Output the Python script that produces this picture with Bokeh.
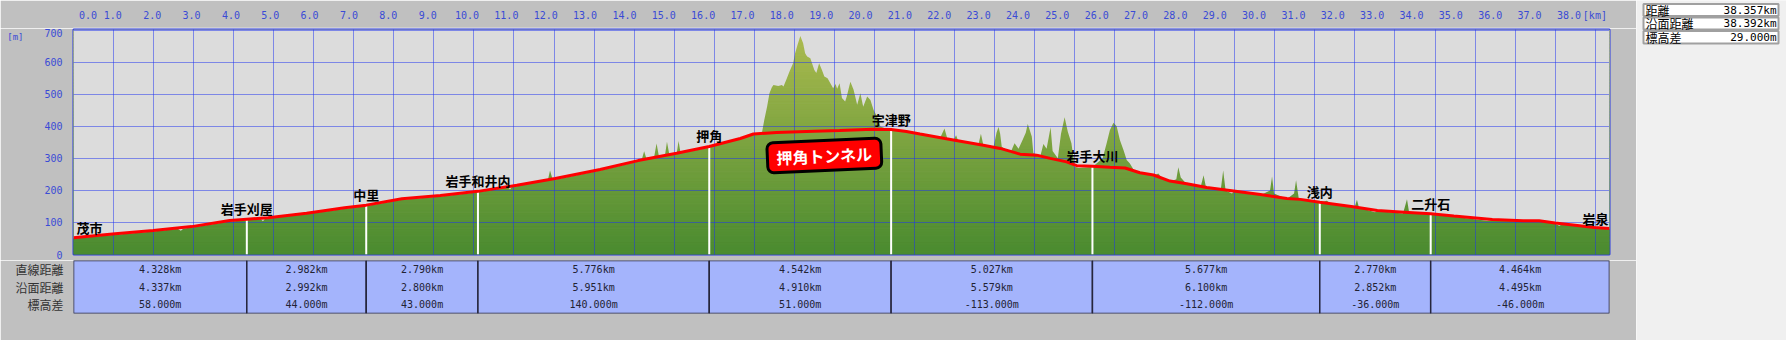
import numpy as np
from bokeh.plotting import figure
from bokeh.models import ColumnDataSource, FixedTicker, Label, LabelSet, Range1d, LinearAxis
from bokeh.layouts import row, column
from bokeh.embed import file_html
from bokeh.resources import INLINE
from bokeh.core.properties import value

# ---------------- data ----------------
stations = ["茂市", "岩手刈屋", "中里", "岩手和井内", "押角", "宇津野", "岩手大川", "浅内", "二升石", "岩泉"]
station_km = [0.0, 4.328, 7.310, 10.100, 15.876, 20.418, 25.445, 31.122, 33.892, 38.356]
station_el = [52, 110, 154, 197, 337, 388, 275, 163, 127, 81]

seg_straight = ["4.328km", "2.982km", "2.790km", "5.776km", "4.542km", "5.027km", "5.677km", "2.770km", "4.464km"]
seg_surface = ["4.337km", "2.992km", "2.800km", "5.951km", "4.910km", "5.579km", "6.100km", "2.852km", "4.495km"]
seg_diff = ["58.000m", "44.000m", "43.000m", "140.000m", "51.000m", "-113.000m", "-112.000m", "-36.000m", "-46.000m"]
row_labels = ["直線距離", "沿面距離", "標高差"]

summary_labels = ["距離", "沿面距離", "標高差"]
summary_values = ["38.357km", "38.392km", "29.000m"]

total_km = 38.357

# route (red line)
red_km = [0.0, 1.04, 1.99, 2.95, 3.9, 4.328, 4.86, 5.82, 6.77, 7.31, 8.2, 9.16, 10.1, 11.07, 12.03,
          13.15, 14.1, 15.06, 15.876, 16.65, 16.98, 17.56, 18.3, 19.13, 19.96, 20.418, 20.8, 21.14,
          21.76, 22.72, 23.14, 23.64, 24.05, 24.39, 24.8, 25.05, 25.445, 25.88, 26.26, 26.63, 26.97,
          27.38, 27.8, 28.3, 28.97, 29.64, 30.3, 30.64, 31.122, 31.91, 32.56, 33.23, 33.892, 34.47,
          35.43, 36.2, 36.6, 37.0, 37.5, 37.98, 38.357]
red_el = [52, 65, 75, 87, 106, 110, 115, 129, 146, 154, 174, 184, 197, 216, 237,
          265, 293, 316, 337, 362, 376, 381, 384, 387, 391, 390, 384, 376,
          362, 341, 331, 313, 310, 300, 289, 277, 275, 272, 270, 255, 248,
          229, 221, 209, 198, 187, 175, 172, 163, 150, 137, 132, 127, 120,
          109, 105, 105, 98, 91, 84, 81]

# ground surface (green area)
ground_km = [0.0, 1.04, 1.99, 2.6, 2.68, 2.75, 2.95, 3.9, 4.328, 4.68, 4.73, 4.78, 4.86, 5.82, 6.77,
             7.31, 8.2, 9.16, 10.1, 10.85, 10.9, 10.95, 11.07, 11.85, 11.9, 11.95, 12.03, 13.15, 14.1,
             14.2, 14.25, 14.3, 14.5, 14.56, 14.62, 14.77, 14.82, 14.88, 15.06, 15.11, 15.16, 15.876,
             16.65, 16.98, 17.19, 17.25, 17.32, 17.38, 17.44, 17.48, 17.6, 17.69, 17.73, 17.8, 17.88,
             17.97, 18.02, 18.08, 18.15, 18.22, 18.27, 18.32, 18.4, 18.5, 18.55, 18.62, 18.69, 18.75,
             18.83, 18.9, 18.97, 19.03, 19.07, 19.13, 19.19, 19.27, 19.31, 19.4, 19.48, 19.57, 19.65,
             19.72, 19.82, 19.9, 19.98, 20.07, 20.15, 20.3, 20.418, 20.8, 21.14, 21.65, 21.75, 21.82,
             21.98, 22.04, 22.1, 22.6, 22.66, 22.72, 22.98, 23.05, 23.1, 23.14, 23.18, 23.4, 23.5,
             23.6, 23.7, 23.78, 23.83, 23.93, 23.97, 24.15, 24.22, 24.3, 24.36, 24.4, 24.45, 24.58,
             24.66, 24.75, 24.83, 24.92, 25.0, 25.1, 25.445, 25.7, 25.8, 25.88, 25.97, 26.05, 26.13,
             26.22, 26.3, 26.38, 26.47, 26.63, 26.97, 27.09, 27.15, 27.38, 27.54, 27.59, 27.65, 27.8,
             28.15, 28.22, 28.28, 28.3, 28.65, 28.71, 28.77, 28.93, 28.97, 29.64, 29.88, 29.93, 29.98,
             30.3, 30.48, 30.53, 30.6, 31.122, 31.3, 31.4, 31.91, 32.0, 32.05, 32.1, 32.5, 32.56,
             33.2, 33.25, 33.3, 33.35, 33.892, 34.47, 35.3, 35.43, 36.2, 36.6, 37.0, 37.1, 37.2,
             37.5, 37.98, 38.357]
ground_el = [50, 62, 72, 80, 74, 81, 84, 103, 107, 110, 104, 111, 112, 126, 143,
             151, 171, 181, 194, 210, 203, 211, 213, 234, 262, 240, 234, 262, 290,
             300, 322, 302, 304, 346, 306, 309, 352, 311, 313, 354, 316, 334,
             360, 373, 378, 420, 461, 503, 522, 529, 526, 529, 524, 545, 571,
             597, 628, 654, 682, 659, 628, 618, 612, 576, 566, 597, 576, 555,
             550, 534, 519, 532, 517, 534, 488, 477, 493, 539, 514, 467, 503,
             461, 493, 482, 451, 430, 399, 392, 391, 386, 378, 366, 393, 362,
             357, 372, 352, 344, 377, 342, 338, 380, 398, 377, 336, 318, 347,
             330, 357, 380, 407, 368, 316, 310, 345, 330, 370, 397, 323, 300,
             377, 428, 383, 347, 274, 270, 273, 300, 347, 388, 411, 400, 357,
             326, 295, 284, 265, 253, 246, 253, 243, 227, 235, 272, 240, 219,
             212, 247, 210, 207, 202, 262, 200, 190, 196, 185, 200, 243, 190,
             173, 190, 232, 172, 162, 168, 158, 148, 150, 171, 147, 132, 136,
             128, 150, 172, 133, 125, 118, 105, 107, 103, 103, 96, 90, 95,
             89, 82, 79]

x_ticks = [1, 2, 3, 4, 5, 6, 7, 8, 9, 10, 11, 12, 13, 14, 15, 16, 17, 18, 19, 20, 21, 22, 23, 24, 25,
           26, 27, 28, 29, 30, 31, 32, 33, 34, 35, 36, 37, 38]
x_tick_labels = ["1.0", "2.0", "3.0", "4.0", "5.0", "6.0", "7.0", "8.0", "9.0", "10.0", "11.0", "12.0",
                 "13.0", "14.0", "15.0", "16.0", "17.0", "18.0", "19.0", "20.0", "21.0", "22.0", "23.0",
                 "24.0", "25.0", "26.0", "27.0", "28.0", "29.0", "30.0", "31.0", "32.0", "33.0", "34.0",
                 "35.0", "36.0", "37.0", "38.0"]
y_ticks = [0, 100, 200, 300, 400, 500, 600, 700]
y_tick_labels = ["0", "100", "200", "300", "400", "500", "600", "700"]

# ---------------- style ----------------
BLUE = "#3a4bd6"
GRID = "#1f33f0"
OUTER = "#c0c0c0"
PLOTBG = "#dcdcdc"
MONO = "DejaVu Sans Mono"
CJK = "Noto Sans CJK JP"
Y_MAX = 702
PX_PER_KM = 1536 / total_km


def style_axis(ax, size="10px", color=BLUE, font=MONO):
    ax.axis_line_color = None
    ax.major_tick_line_color = None
    ax.minor_tick_line_color = None
    ax.major_tick_out = 0
    ax.major_tick_in = 0
    ax.major_label_text_color = color
    ax.major_label_text_font = font
    ax.major_label_text_font_size = size


# ---------------- header with the km scale ----------------
hx_end = total_km + 27 / PX_PER_KM
h = figure(width=1636, height=28, x_range=Range1d(0, hx_end), y_range=Range1d(0, 1),
           x_axis_location="above", y_axis_location=None, output_backend="svg", toolbar_location=None,
           min_border_left=73, min_border_right=0, min_border_top=27, min_border_bottom=0)
h.background_fill_color = OUTER
h.border_fill_color = OUTER
h.outline_line_color = None
h.grid.visible = False
h.line(x=[0, hx_end], y=[0.5, 0.5], line_color=OUTER, line_alpha=0)
hdr_ticks = [0.37] + x_ticks + [38.66]
hdr_labels = ["0.0"] + x_tick_labels + ["[km]"]
h.xaxis.ticker = FixedTicker(ticks=hdr_ticks)
h.xaxis.major_label_overrides = {t_: l_ for t_, l_ in zip(hdr_ticks, hdr_labels)}
style_axis(h.xaxis)
h.xaxis.major_label_standoff = 7

# ---------------- main profile ----------------
p = figure(width=1636, height=232, x_range=Range1d(0, total_km), y_range=Range1d(0, Y_MAX),
           x_axis_location=None, output_backend="svg", toolbar_location=None,
           min_border_left=73, min_border_right=27, min_border_top=1, min_border_bottom=6)
p.background_fill_color = PLOTBG
p.border_fill_color = OUTER
p.outline_line_color = "#2b3be0"
p.outline_line_width = 2

# vertical colour gradient for the ground, masked by the "sky" above the ground line
band_lo = np.arange(0, 700, 10)
band_hi = band_lo + 10
tt = (band_lo + 5) / 700.0
c0 = np.array([74, 139, 48])
c1 = np.array([174, 188, 80])
band_cols = ["#%02x%02x%02x" % tuple((c0 + (c1 - c0) * v).astype(int)) for v in tt]
p.quad(left=0, right=total_km, bottom=band_lo, top=band_hi, fill_color=band_cols,
       line_color=band_cols, line_width=1, level="image")
p.varea(x=ground_km, y1=ground_el, y2=Y_MAX, fill_color=PLOTBG, level="image")

# grid
p.xgrid.ticker = FixedTicker(ticks=x_ticks)
p.ygrid.ticker = FixedTicker(ticks=y_ticks[1:])
for g in (p.xgrid, p.ygrid):
    g.grid_line_color = GRID
    g.grid_line_dash = "1 1"
    g.grid_line_width = 1

# y axis and unit
p.yaxis.ticker = FixedTicker(ticks=y_ticks)
p.yaxis.major_label_overrides = {t_: l_ for t_, l_ in zip(y_ticks, y_tick_labels)}
style_axis(p.yaxis)
p.yaxis.major_label_standoff = 11
unit_axis = LinearAxis(ticker=FixedTicker(ticks=[700]), major_label_overrides={700: "[m]"})
style_axis(unit_axis, size="9px")
unit_axis.major_label_standoff = 18
p.add_layout(unit_axis, "left")

# station lines and route
p.segment(x0=station_km[1:-1], y0=0, x1=station_km[1:-1], y1=station_el[1:-1],
          line_color="white", line_width=2)
p.line(red_km, red_el, line_color="#ff0000", line_width=3)

# station names
src_c = ColumnDataSource(dict(x=station_km[1:-1], y=station_el[1:-1], t=stations[1:-1]))
p.add_layout(LabelSet(x="x", y="y", text="t", source=src_c, text_align="center", text_baseline="bottom",
                      y_offset=1, text_color="black", text_font=value(CJK), text_font_style="bold",
                      text_font_size="13px"))
p.add_layout(Label(x=station_km[0], y=station_el[0], x_offset=3, y_offset=1, text=stations[0],
                   text_align="left", text_baseline="bottom", text_color="black",
                   text_font=CJK, text_font_style="bold", text_font_size="13px"))
p.add_layout(Label(x=station_km[-1], y=station_el[-1], x_offset=-1, y_offset=1, text=stations[-1],
                   text_align="right", text_baseline="bottom", text_color="black",
                   text_font=CJK, text_font_style="bold", text_font_size="13px"))

# tunnel badge
p.add_layout(Label(x=18.75, y=309, text="押角トンネル", text_align="center", text_baseline="middle",
                   angle=0.045, text_color="white", text_font=CJK, text_font_style="bold",
                   text_font_size="16px", background_fill_color="#ff0000", border_line_color="black",
                   border_line_width=3, border_radius=6, padding=(9, 3)))

# ---------------- section table ----------------
seg_start = station_km[:-1]
seg_end = station_km[1:]
seg_mid = [(a + b) / 2 for a, b in zip(seg_start, seg_end)]

t = figure(width=1636, height=80, x_range=p.x_range, y_range=Range1d(0, 3), x_axis_location=None,
           output_backend="svg", toolbar_location=None,
           min_border_left=73, min_border_right=27, min_border_top=0, min_border_bottom=27)
t.background_fill_color = OUTER
t.border_fill_color = OUTER
t.outline_line_color = None
t.grid.visible = False
t.quad(left=seg_start, right=seg_end, bottom=0, top=3, fill_color="#a4b4fc",
       line_color="#26263c", line_width=1.5)
t.yaxis.ticker = FixedTicker(ticks=[2.5, 1.5, 0.5])
t.yaxis.major_label_overrides = {2.5: row_labels[0], 1.5: row_labels[1], 0.5: row_labels[2]}
style_axis(t.yaxis, size="12px", color="#333333", font=CJK)
t.yaxis.major_label_standoff = 10
for yv, vals in ((2.5, seg_straight), (1.5, seg_surface), (0.5, seg_diff)):
    t.text(x=seg_mid, y=yv, text=vals, text_align="center", text_baseline="middle",
           text_font=value(MONO), text_font_size="10px", text_color="#222233")

# ---------------- summary panel ----------------
r = figure(width=150, height=340, x_range=Range1d(0, 150), y_range=Range1d(340, 0),
           x_axis_location=None, y_axis_location=None, output_backend="svg", toolbar_location=None,
           min_border=0)
r.background_fill_color = "#f0f0f0"
r.border_fill_color = "#f0f0f0"
r.outline_line_color = None
r.grid.visible = False
row_top = [3.5, 17, 30.5]
row_bot = [15.5, 29, 43]
r.quad(left=7, right=142, top=row_top, bottom=row_bot, fill_color="white",
       line_color="#a0a0a0", line_width=2)
row_mid = [(a + b) / 2 for a, b in zip(row_top, row_bot)]
r.text(x=9, y=row_mid, text=summary_labels, text_align="left", text_baseline="middle",
       text_font=value(CJK), text_font_size="12px", text_color="black")
r.text(x=140, y=row_mid, text=summary_values, text_align="right", text_baseline="middle",
       text_font=value(MONO), text_font_size="11px", text_color="black")

layout = row(column(h, p, t), r)
open("out.html", "w").write(file_html(layout, INLINE))
